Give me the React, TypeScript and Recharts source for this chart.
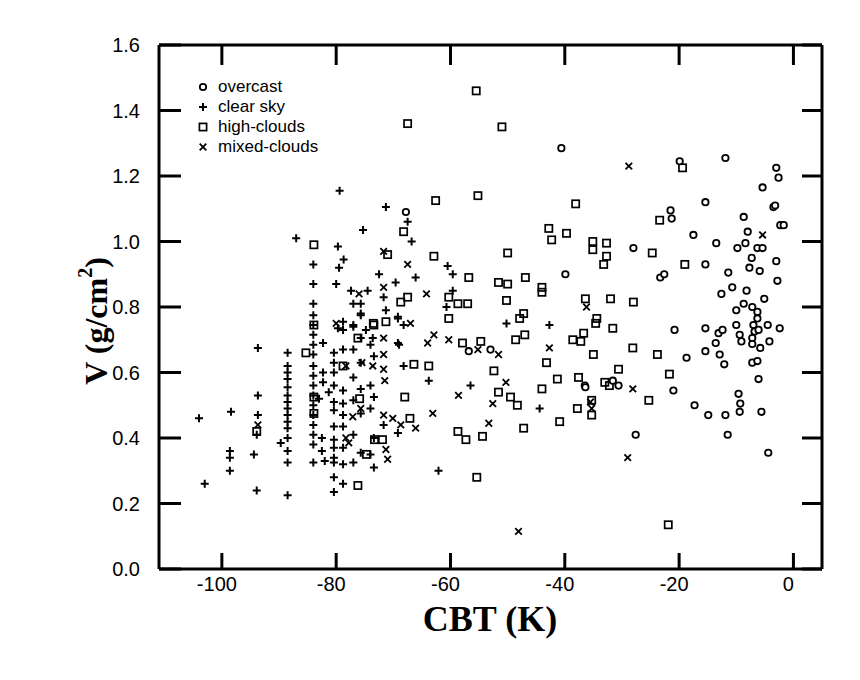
import React from 'react';
import { ScatterChart, Scatter, XAxis, YAxis, Legend, Label } from 'recharts';

// values: [CBT (K), V (g/cm2)]
const overcast: [number, number][] = [
  [-67.8, 1.09], [-40.6, 1.285], [-21.5, 1.095], [-21.3, 1.07], [-19.9, 1.245], [-28, 0.98],
  [-23.3, 0.89], [-22.6, 0.9], [-39.9, 0.9], [-56.8, 0.665], [-53, 0.67], [-36.5, 0.56],
  [-31.6, 0.575], [-30.6, 0.56], [-36.4, 0.555], [-27.6, 0.41], [-20.8, 0.73], [-21, 0.545],
  [-18.7, 0.645], [-17.3, 0.5], [-14.9, 0.47], [-15.4, 0.735], [-15.4, 0.665], [-13.6, 0.69],
  [-13.1, 0.72], [-12.4, 0.73], [-12.9, 0.655], [-12.1, 0.625], [-11.9, 0.47], [-11.5, 0.41],
  [-12.6, 0.84], [-10.7, 0.86], [-8.2, 0.85], [-10, 0.79], [-10, 0.745], [-9.4, 0.715],
  [-9.1, 0.695], [-8.7, 0.81], [-7.2, 0.8], [-6.3, 0.785], [-6.3, 0.765], [-7, 0.745],
  [-6.8, 0.725], [-6.1, 0.73], [-7.2, 0.705], [-7.2, 0.687], [-5.8, 0.675], [-4.5, 0.745],
  [-4.2, 0.695], [-2.4, 0.735], [-5.1, 0.825], [-2.8, 0.88], [-7.2, 0.63], [-6.3, 0.635],
  [-6.1, 0.58], [-9.6, 0.535], [-9.3, 0.505], [-9.4, 0.48], [-5.6, 0.48], [-4.4, 0.355],
  [-11.9, 1.255], [-3, 1.225], [-2.6, 1.195], [-5.4, 1.165], [-15.4, 1.12], [-3.5, 1.105],
  [-3.2, 1.11], [-8.7, 1.075], [-2.3, 1.05], [-1.7, 1.05], [-17.5, 1.02], [-13.5, 0.995],
  [-8, 1.03], [-8.4, 0.995], [-9.8, 0.98], [-6.3, 0.98], [-5.4, 0.98], [-7.3, 0.95],
  [-15.4, 0.93], [-7.7, 0.92], [-11.4, 0.905], [-5.9, 0.91], [-3, 0.94],
];

const clearSky: [number, number][] = [
  [-104, 0.46], [-103, 0.26], [-98.4, 0.48], [-98.6, 0.36], [-98.6, 0.34], [-98.6, 0.3],
  [-93.7, 0.675], [-93.7, 0.53], [-93.7, 0.47], [-94.4, 0.35], [-93.9, 0.24], [-93.9, 0.41],
  [-88.5, 0.66], [-88.5, 0.62], [-88.5, 0.6], [-88.5, 0.58], [-88.5, 0.555], [-88.5, 0.53],
  [-88.5, 0.51], [-88.5, 0.49], [-88.5, 0.47], [-88.5, 0.45], [-88.5, 0.43], [-88.5, 0.4],
  [-89.7, 0.385], [-88.5, 0.36], [-88.5, 0.325], [-88.5, 0.225], [-87, 1.01],
  [-84, 0.93], [-84, 0.87], [-84, 0.81], [-84, 0.775], [-84, 0.745], [-84, 0.715],
  [-84, 0.685], [-84, 0.655], [-84, 0.62], [-84, 0.59], [-84, 0.56], [-84, 0.53],
  [-84, 0.5], [-84, 0.47], [-84, 0.44], [-84, 0.41], [-84, 0.38], [-84, 0.325],
  [-82.3, 0.69], [-82.3, 0.6], [-82.3, 0.57], [-83, 0.52], [-81.3, 0.54], [-82.5, 0.4],
  [-82.5, 0.36], [-82, 0.33],
  [-80.4, 0.66], [-80.4, 0.63], [-80.4, 0.6], [-80.4, 0.56], [-80.4, 0.51], [-80.4, 0.485],
  [-80.4, 0.435], [-80.4, 0.395], [-80.4, 0.37], [-80.4, 0.34], [-80.4, 0.325], [-80.4, 0.28],
  [-80.4, 0.235], [-79.7, 0.985], [-78.7, 0.945], [-79.5, 0.92], [-80, 0.87], [-79.4, 1.155],
  [-78.8, 0.755], [-78.8, 0.73], [-78.8, 0.67], [-78.8, 0.545], [-78.8, 0.505], [-78.8, 0.47],
  [-78.8, 0.435], [-78.8, 0.37], [-78.8, 0.32], [-78.8, 0.26],
  [-77, 0.81], [-75.7, 0.775], [-77, 0.74], [-75.7, 0.705], [-77, 0.67], [-75.7, 0.63],
  [-77, 0.585], [-75.7, 0.55], [-77, 0.515], [-75.7, 0.475], [-77, 0.41], [-75.7, 0.355],
  [-77, 0.325],
  [-74, 0.685], [-73.4, 0.65], [-74, 0.56], [-73.4, 0.525], [-74, 0.49], [-73.4, 0.4],
  [-74, 0.35], [-73.4, 0.31],
  [-71.3, 1.105], [-75.3, 1.035], [-67.5, 1.06], [-66.8, 1.0], [-77.4, 0.85], [-74.5, 0.85],
  [-75.7, 0.81], [-75.7, 0.78], [-72.5, 0.9], [-71.7, 0.83], [-71.3, 0.79], [-69.6, 0.875],
  [-69.2, 0.77], [-66.1, 0.89], [-60.5, 0.925], [-59.6, 0.9], [-59.6, 0.85], [-60.7, 0.8],
  [-79.7, 0.735], [-77, 0.745], [-74.8, 0.73], [-69.2, 0.69], [-73.6, 0.705],
  [-69.2, 0.765], [-68.2, 0.745], [-69, 0.685], [-68.2, 0.62], [-63.8, 0.575], [-56.5, 0.56],
  [-50.2, 0.75], [-42.7, 0.745], [-44.4, 0.49], [-69.2, 0.415], [-71.7, 0.44], [-62.1, 0.3],
];

const highClouds: [number, number][] = [
  [-67.5, 1.36], [-55.5, 1.46], [-51, 1.35], [-38.1, 1.115], [-19.4, 1.225], [-23.4, 1.065],
  [-42.8, 1.04], [-42.3, 1.005], [-39.7, 1.025], [-35.1, 1.0], [-35.1, 0.975], [-32.7, 0.995],
  [-32.7, 0.955], [-33.2, 0.93], [-24.7, 0.965], [-50, 0.965], [-46.9, 0.89], [-51.6, 0.875],
  [-50, 0.87], [-44, 0.86], [-44, 0.845], [-50.2, 0.82], [-36.4, 0.825], [-32, 0.825],
  [-28, 0.815], [-47.2, 0.78], [-34.4, 0.765], [-55.2, 1.14], [-62.6, 1.125], [-68.2, 1.03],
  [-62.9, 0.955], [-71, 0.96], [-56.8, 0.89], [-60.3, 0.83], [-58.7, 0.81], [-57, 0.81],
  [-60.3, 0.765], [-71.3, 0.755], [-73.5, 0.75], [-76.2, 0.705], [-57.9, 0.69], [-54.7, 0.695],
  [-83.9, 0.99], [-67.5, 0.83], [-68.7, 0.815], [-47.9, 0.765], [-34.6, 0.75], [-48.6, 0.7],
  [-47, 0.715], [-38.6, 0.7], [-37.2, 0.695], [-36.7, 0.72], [-35, 0.655], [-66.4, 0.625],
  [-63.8, 0.62], [-52.4, 0.605], [-43.2, 0.63], [-41.3, 0.58], [-37.6, 0.585], [-44, 0.55],
  [-51.6, 0.54], [-49.5, 0.525], [-48.3, 0.5], [-37.8, 0.49], [-35.3, 0.515], [-35.3, 0.47],
  [-40.9, 0.45], [-47.2, 0.43], [-58.7, 0.42], [-57.3, 0.395], [-54.4, 0.405], [-55.4, 0.28],
  [-68, 0.525], [-67.1, 0.46], [-71.9, 0.395], [-85.3, 0.66], [-83.9, 0.745], [-83.9, 0.525],
  [-83.9, 0.475], [-75.9, 0.52], [-73.3, 0.395], [-76.2, 0.255], [-73.4, 0.745], [-78.8, 0.62],
  [-74.7, 0.35], [-93.9, 0.42], [-31.6, 0.735], [-28.1, 0.675], [-23.8, 0.655], [-30.6, 0.61],
  [-21.7, 0.595], [-33, 0.57], [-32.2, 0.56], [-25.3, 0.515], [-21.9, 0.135], [-19, 0.93],
];

const mixedClouds: [number, number][] = [
  [-67.5, 0.93], [-64.2, 0.84], [-71.7, 0.86], [-62.9, 0.715], [-60.3, 0.7], [-64, 0.69],
  [-71.7, 0.705], [-67, 0.75], [-76, 0.84], [-71.7, 0.97], [-55.2, 0.67], [-51.6, 0.655],
  [-71.7, 0.61], [-71.5, 0.575], [-58.6, 0.53], [-50.3, 0.57], [-52.6, 0.505], [-53.3, 0.445],
  [-63.1, 0.475], [-70.1, 0.46], [-68.7, 0.44], [-66.1, 0.43], [-71.7, 0.47], [-71.3, 0.365],
  [-71, 0.335], [-42.7, 0.675], [-36.2, 0.8], [-48.1, 0.115], [-71.7, 0.655], [-35.5, 0.51],
  [-78.3, 0.62], [-75.5, 0.63], [-73.6, 0.62], [-77.1, 0.465], [-78.3, 0.4], [-77.8, 0.385],
  [-75.7, 0.49], [-93.7, 0.44], [-80, 0.75], [-28.8, 1.23], [-28.1, 0.55], [-29, 0.34],
  [-5.4, 1.02], [-35.3, 0.49],
];

const xTicks = [-100, -80, -60, -40, -20, 0];
const yTicks = [0, 0.2, 0.4, 0.6, 0.8, 1.0, 1.2, 1.4, 1.6];

const sans = "'Liberation Sans', Arial, sans-serif";
const serif = "'Liberation Serif', 'Times New Roman', serif";

const toPts = (arr: [number, number][]) => arr.map(([x, y]) => ({ x, y }));

const CircleMark = ({ cx, cy }: any) => (
  <circle cx={cx} cy={cy} r={3.2} fill="#fff" stroke="#000" strokeWidth={1.8} />
);
const PlusMark = ({ cx, cy }: any) => (
  <path d={`M${cx - 4},${cy}H${cx + 4}M${cx},${cy - 4}V${cy + 4}`} stroke="#000" strokeWidth={2} />
);
const SquareMark = ({ cx, cy }: any) => (
  <rect x={cx - 3.6} y={cy - 3.6} width={7.2} height={7.2} fill="none" stroke="#000" strokeWidth={1.7} />
);
const CrossMark = ({ cx, cy }: any) => (
  <path
    d={`M${cx - 3.3},${cy - 3.3}L${cx + 3.3},${cy + 3.3}M${cx + 3.3},${cy - 3.3}L${cx - 3.3},${cy + 3.3}`}
    stroke="#000"
    strokeWidth={1.8}
  />
);

// ticks point into the plot, labels sit outside
const LeftTick = ({ x, y, payload }: any) => (
  <g>
    <line x1={x} x2={x + 22} y1={y} y2={y} stroke="#000" strokeWidth={3} />
    <text x={x - 19} y={y + 7} textAnchor="end" fontSize={20} fontFamily={sans} fill="#000">
      {Number(payload.value).toFixed(1)}
    </text>
  </g>
);
const BottomTick = ({ x, y, payload }: any) => (
  <g>
    <line x1={x} x2={x} y1={y} y2={y - 16} stroke="#000" strokeWidth={3} />
    <text x={x - 5} y={y + 22} textAnchor="middle" fontSize={20} fontFamily={sans} fill="#000">
      {payload.value}
    </text>
  </g>
);
const TopTick = ({ x, y }: any) => <line x1={x} x2={x} y1={y} y2={y + 20} stroke="#000" strokeWidth={3} />;
const RightTick = ({ x, y }: any) => <line x1={x} x2={x - 20} y1={y} y2={y} stroke="#000" strokeWidth={3} />;

const legendItems = [
  { name: 'overcast', Mark: CircleMark, y: 22 },
  { name: 'clear sky', Mark: PlusMark, y: 42 },
  { name: 'high-clouds', Mark: SquareMark, y: 62 },
  { name: 'mixed-clouds', Mark: CrossMark, y: 82 },
];

const LegendBox = () => (
  <svg width={200} height={95}>
    {legendItems.map(({ name, Mark, y }) => (
      <g key={name}>
        <Mark cx={13} cy={y - 5} />
        <text x={28} y={y} fontSize={17} fontFamily={sans} fill="#000">
          {name}
        </text>
      </g>
    ))}
  </svg>
);

const axisLine = { stroke: '#000', strokeWidth: 3 };

const App: React.FC = () => (
  <div style={{ position: 'absolute', left: 0, top: 0, width: 860, height: 680, background: '#fff' }}>
    <ScatterChart width={860} height={680} margin={{ top: 44, right: 37, bottom: 51, left: 89 }}>
      <XAxis
        dataKey="x"
        type="number"
        domain={[-111, 5]}
        ticks={xTicks}
        height={60}
        tickSize={0}
        tickMargin={0}
        tick={<BottomTick />}
        axisLine={axisLine}
      >
        <Label
          content={() => (
            <text x={490} y={631} textAnchor="middle" fontSize={36} fontWeight="bold" fontFamily={serif} fill="#000">
              CBT (K)
            </text>
          )}
        />
      </XAxis>
      {/* 1px-thick axes on top and right give the closed frame with inward ticks */}
      <XAxis
        xAxisId="top"
        orientation="top"
        dataKey="x"
        type="number"
        domain={[-111, 5]}
        ticks={xTicks}
        height={1}
        tickSize={0}
        tickMargin={0}
        tick={<TopTick />}
        axisLine={axisLine}
      />
      <YAxis
        dataKey="y"
        type="number"
        domain={[0, 1.6]}
        ticks={yTicks}
        width={70}
        tickSize={0}
        tickMargin={0}
        tick={<LeftTick />}
        axisLine={axisLine}
      >
        <Label
          content={() => (
            <text
              x={96}
              y={321}
              transform="rotate(-90, 96, 321)"
              textAnchor="middle"
              dominantBaseline="central"
              fontSize={32}
              fontWeight="bold"
              fontFamily={serif}
              fill="#000"
            >
              V (g/cm
              <tspan dy={-11} fontSize={20}>2</tspan>
              <tspan dy={11}>)</tspan>
            </text>
          )}
        />
      </YAxis>
      <YAxis
        yAxisId="right"
        orientation="right"
        dataKey="y"
        type="number"
        domain={[0, 1.6]}
        ticks={yTicks}
        width={1}
        tickSize={0}
        tickMargin={0}
        tick={<RightTick />}
        axisLine={axisLine}
      />
      <Legend
        layout="vertical"
        align="center"
        verticalAlign="middle"
        wrapperStyle={{ left: 190, top: 70, width: 200, height: 95 }}
        content={() => <LegendBox />}
      />
      <Scatter name="high-clouds" data={toPts(highClouds)} shape={<SquareMark />} isAnimationActive={false} />
      {/* overcast sits on the top/right axes (same domains) so those axes are rendered */}
      <Scatter
        name="overcast"
        xAxisId="top"
        yAxisId="right"
        data={toPts(overcast)}
        shape={<CircleMark />}
        isAnimationActive={false}
      />
      <Scatter name="mixed-clouds" data={toPts(mixedClouds)} shape={<CrossMark />} isAnimationActive={false} />
      <Scatter name="clear sky" data={toPts(clearSky)} shape={<PlusMark />} isAnimationActive={false} />
    </ScatterChart>
  </div>
);

export default App;
